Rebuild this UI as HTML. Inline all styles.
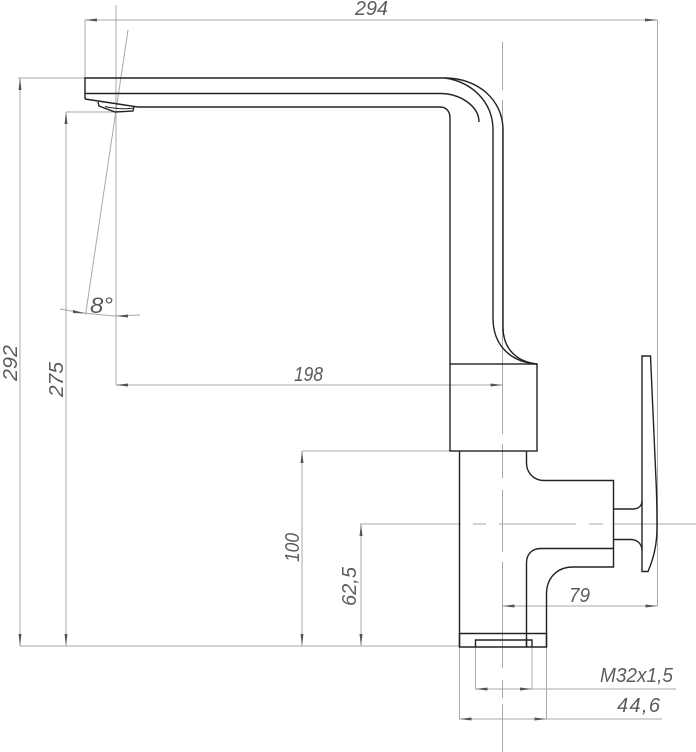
<!DOCTYPE html>
<html><head><meta charset="utf-8"><style>
html,body{margin:0;padding:0;background:#fff;width:696px;height:752px;overflow:hidden}
svg{display:block}
text{font-family:"Liberation Sans",sans-serif;font-style:italic;font-size:20px;fill:#5c5c5c}
.d{stroke:#a8a8a8;stroke-width:1;fill:none}
.m{stroke:#222;stroke-width:1.4;fill:none}
.a{fill:#555;stroke:none}
</style></head><body>
<svg width="696" height="752" viewBox="0 0 696 752" xmlns="http://www.w3.org/2000/svg">
<!-- dimension lines -->
<g class="d">
<path d="M85 20H657.500M85 20V78M657.500 20V606"/>
<path d="M116 5V385"/>
<path d="M128 30L85.500 315"/>
<path d="M60 309Q85 314 116 316L140 315"/>
<path d="M18 78H85M20 78V646M20 646H460"/>
<path d="M66 112H116M66 112V646"/>
<path d="M116 385H502.500"/>
<path d="M302 451H450M302 451V646"/>
<path d="M361 524V646"/>
<path d="M360 524H461M473 524H486M499 524H576M589 524H603M613 524H696"/>
<path d="M502.500 42V90M502.500 100V434M502.500 444V478M502.500 490V552M502.500 562V668M502.500 680V698M502.500 704V752"/>
<path d="M502.500 606H657.500"/>
<path d="M475.500 647V689M532 647V689M475.500 689H676"/>
<path d="M459.500 647V719M546.500 647V719M459.500 719H662"/>
</g>
<!-- arrowheads -->
<g class="a">
<path d="M85 20L97 18.500V21.500Z"/><path d="M657.500 20L645 18.500V21.500Z"/>
<path d="M20 78L18.500 90H21.500Z"/><path d="M20 646L18.500 634H21.500Z"/>
<path d="M66 112L64.500 124H67.500Z"/><path d="M66 646L64.500 634H67.500Z"/>
<path d="M116 385L128 383.500V386.500Z"/><path d="M502.500 385L490.500 383.500V386.500Z"/>
<path d="M85 313.500L73 310V313Z"/><path d="M116 316L128 314.500V317.500Z"/>
<path d="M302 451L300.500 463H303.500Z"/><path d="M302 646L300.500 634H303.500Z"/>
<path d="M361 524L359.500 536H362.500Z"/><path d="M361 646L359.500 634H362.500Z"/>
<path d="M502.500 606L514.500 604.500V607.500Z"/><path d="M657.500 606L645.500 604.500V607.500Z"/>
<path d="M475.500 689L487.500 687.500V690.500Z"/><path d="M532 689L520 687.500V690.500Z"/>
<path d="M459.500 719L471.500 717.500V720.500Z"/><path d="M546.500 719L534.500 717.500V720.500Z"/>
</g>
<!-- faucet body -->
<g class="m">
<path d="M85 99V78H445C478 78 503 100 503 130V327"/>
<path d="M445 78C472 82 493 102 493 130V318"/>
<path d="M85 93.500H440C460 93.500 479 106 479 122"/>
<path d="M85 99L138 107H440C446 107 450 111 450 118V364"/>
<path d="M98 102L99 106L115 112L133 111L134 107"/>
<path d="M105 106.500Q120 110 134 108" stroke-width="1"/>
<path d="M493 318C493 345 510 362 537 364"/>
<path d="M503 327C503 350 518 362 537 364"/>
<rect x="450" y="364" width="87" height="87"/>
<path d="M459.500 451V647"/>
<path d="M526.500 451V463C526.500 473 534 480.500 544 480.500H613.500V567H573C557 567 546.500 578 546.500 594V647"/>
<path d="M613.500 548.500H541C532 548.500 526.500 554 526.500 563V647"/>
<path d="M459.500 633.500H546.500V647H459.500Z"/>
<path d="M475.500 647V640H532V647M526.500 640V647"/>
<path d="M613.500 509H633C638 509 642 506 642 501"/>
<path d="M613.500 539.500H631C637 539.500 642 544 642 550"/>
<path d="M642 356H650.500L656 480C657 500 657 515 657 528C657 545 653 560 648 571.500H642Z"/>
</g>
<!-- labels -->
<text x="355" y="15" textLength="33" lengthAdjust="spacingAndGlyphs">294</text>
<text x="294" y="381" textLength="29" lengthAdjust="spacingAndGlyphs">198</text>
<text x="90" y="313" font-size="22" style="font-size:22px" textLength="23" lengthAdjust="spacingAndGlyphs">8°</text>
<text x="569" y="602" textLength="21" lengthAdjust="spacingAndGlyphs">79</text>
<text x="600" y="682" textLength="73" lengthAdjust="spacingAndGlyphs">M32x1,5</text>
<text x="617" y="712" textLength="43" lengthAdjust="spacing">44,6</text>
<text transform="translate(17 381) rotate(-90)" textLength="36" lengthAdjust="spacingAndGlyphs">292</text>
<text transform="translate(63 397) rotate(-90)" textLength="35" lengthAdjust="spacingAndGlyphs">275</text>
<text transform="translate(299 562) rotate(-90)" textLength="29" lengthAdjust="spacingAndGlyphs">100</text>
<text transform="translate(356 606) rotate(-90)" textLength="39" lengthAdjust="spacingAndGlyphs">62,5</text>
</svg>
</body></html>
